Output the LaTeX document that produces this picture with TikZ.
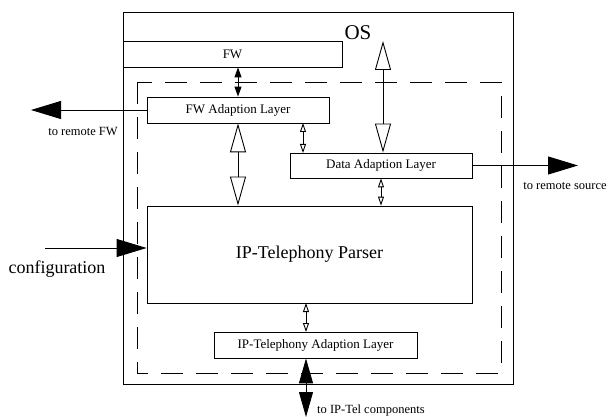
\documentclass[tikz,border=0pt]{standalone}
\usepackage{fontspec}
\setmainfont{Liberation Serif}
\usetikzlibrary{arrows.meta}
\begin{document}
\begin{tikzpicture}[x=1pt,y=-1pt]
            \tikzstyle{every node}+=[inner sep=0pt]
            \tikzstyle{box}=[draw=black, line width=0.8pt, font=\fontsize{13}{15}\selectfont]
            \tikzstyle{lbl}=[font=\fontsize{12.5}{14}\selectfont]
            \tikzstyle{conn}=[black, line width=0.9pt]
            \tikzstyle{bigfill}=[conn, -{Triangle[length=30pt,width=18pt]}]
            \tikzstyle{bothfill}=[conn, {Triangle[length=25pt,width=14pt]}-{Triangle[length=25pt,width=14pt]}]
            \tikzstyle{smallfill}=[conn, {Triangle[length=10pt,width=7pt]}-{Triangle[length=10pt,width=7pt]}]
            \tikzstyle{bigopen}=[conn, {Triangle[open,length=29pt,width=16pt]}-{Triangle[open,length=29pt,width=16pt]}]
            \tikzstyle{smallopen}=[conn, {Triangle[open,length=9pt,width=6pt]}-{Triangle[open,length=9pt,width=6pt]}]
            \useasboundingbox (0,0) rectangle (608,417);
            \node [box, minimum width=390, minimum height=372] (os) at (318,198) {};
            \node [font=\fontsize{21}{24}\selectfont] (oslabel) at (358,33) {OS};
            \node [box, minimum width=219, minimum height=26] (fw) at (232.5,54) {FW};
            \draw [black, line width=0.8pt, dash pattern=on 22pt off 13pt] (137,82) rectangle (501,373);
            \node [box, fill=white, minimum width=182, minimum height=26] (fwal) at (238,110) {FW Adaption Layer};
            \node [box, fill=white, minimum width=182, minimum height=25] (dal) at (381,165.5) {Data Adaption Layer};
            \node [box, fill=white, minimum width=325, minimum height=97, font=\fontsize{18}{21}\selectfont] (parser) at (309.5,254.5) {IP-Telephony Parser};
            \node [box, fill=white, minimum width=203, minimum height=26] (iptal) at (315.5,345) {IP-Telephony Adaption Layer};
            \coordinate (rfw) at (31,110);
            \coordinate (rsrc) at (578,165.5);
            \coordinate (cfg) at (45,248);
            \coordinate (ostop) at (383,41);
            \coordinate (iptc) at (306,417);
            \draw [smallfill] (fwal.north) -- (fwal.north |- fw.south);
            \draw [bigfill] (fwal.west) -- (rfw);
            \node [lbl] (rfwlabel) at (83,132) {to remote FW};
            \draw [bigopen] (fwal.south) -- (fwal.south |- parser.north);
            \draw [smallopen] (303,123) -- (303,153);
            \draw [bigopen] (ostop) -- (ostop |- dal.north);
            \draw [bigfill] (dal.east) -- (rsrc);
            \node [lbl] (rsrclabel) at (565,186) {to remote source};
            \draw [smallopen] (dal.south) -- (dal.south |- parser.north);
            \draw [bigfill] (cfg) -- (cfg -| parser.west);
            \node [font=\fontsize{18}{21}\selectfont] (cfglabel) at (57,269) {configuration};
            \draw [smallopen] (306,303) -- (306,332);
            \draw [bothfill] (iptal.south -| iptc) -- (iptc);
            \node [lbl, anchor=base west] (iptclabel) at (317,413.5) {to IP-Tel components};
\end{tikzpicture}
\end{document}
